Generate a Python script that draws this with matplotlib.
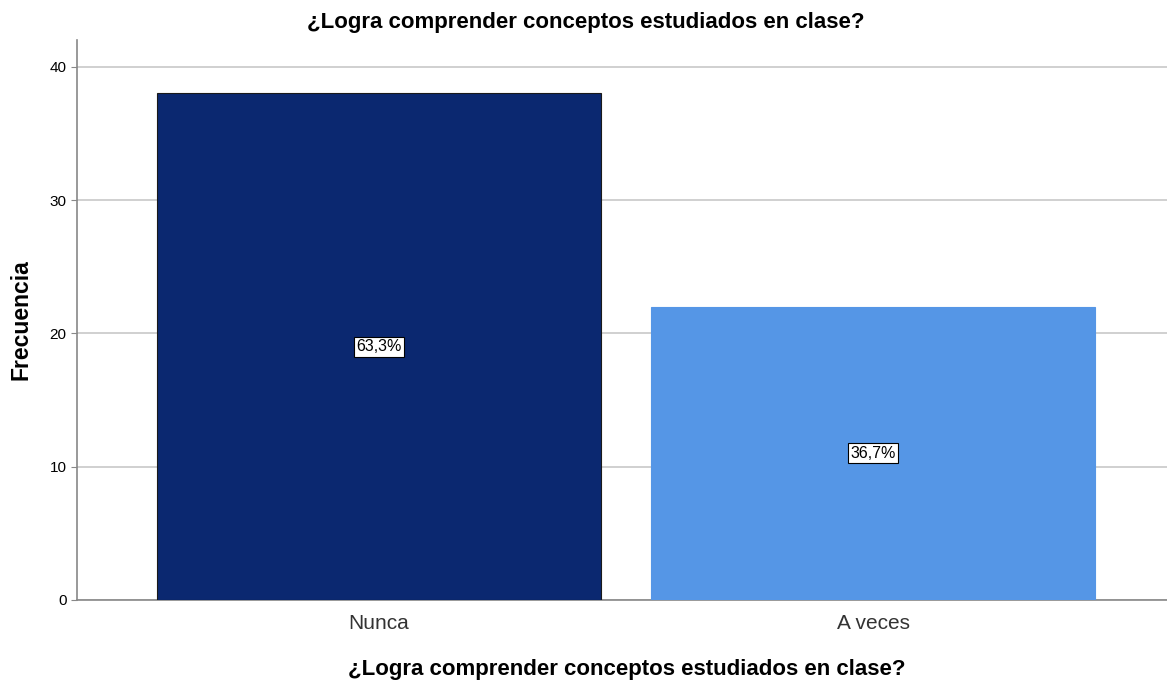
import matplotlib
matplotlib.use('Agg')
import matplotlib.pyplot as plt

plt.rcParams['font.family'] = ['Liberation Sans', 'DejaVu Sans']

# Data
categories = ['Nunca', 'A veces']
frequencies = [38, 22]
bar_colors = ['#0b2870', '#5596e6']
title = '¿Logra comprender conceptos estudiados en clase?'

total = sum(frequencies)
percents = [f / total * 100 for f in frequencies]

fig = plt.figure(figsize=(11.67, 6.81), dpi=100)
ax = fig.add_axes([0.066, 0.119, 0.934, 0.822])

x = list(range(len(categories)))
ax.bar(x, frequencies, width=0.9, color=bar_colors, edgecolor=['#1a1a1a', bar_colors[1]],
       linewidth=0.8, zorder=3)

for xi, f, p in zip(x, frequencies, percents):
    label = f'{p:.1f}%'.replace('.', ',')
    ax.text(xi, f / 2, label, ha='center', va='center', fontsize=11.5, zorder=4,
            bbox=dict(boxstyle='square,pad=0.15', facecolor='white', edgecolor='black', linewidth=0.8))

ax.set_xlim(-0.611, 1.595)
ax.set_ylim(0, 42)
ax.set_yticks([0, 10, 20, 30, 40])
ax.set_xticks(x)
ax.set_xticklabels(categories, fontsize=15, color='#333333')
ax.tick_params(axis='y', labelsize=11, length=4, color='#888888')
ax.tick_params(axis='x', length=0, pad=10)
ax.yaxis.grid(True, color='#c8c8c8', linewidth=1.2, zorder=0)
ax.set_axisbelow(True)

for side in ['top', 'right']:
    ax.spines[side].set_visible(False)
ax.spines['left'].set_color('#888888')
ax.spines['bottom'].set_color('#888888')
ax.spines['left'].set_linewidth(1.2)
ax.spines['bottom'].set_linewidth(1.2)

ax.set_ylabel('Frecuencia', fontsize=16.5, fontweight='bold', labelpad=12)
fig.text(0.537, 0.017, title, ha='center', va='center', fontsize=16, fontweight='bold')
fig.text(0.502, 0.967, title, ha='center', va='center', fontsize=16, fontweight='bold')

fig.savefig('out.png', dpi=100)
